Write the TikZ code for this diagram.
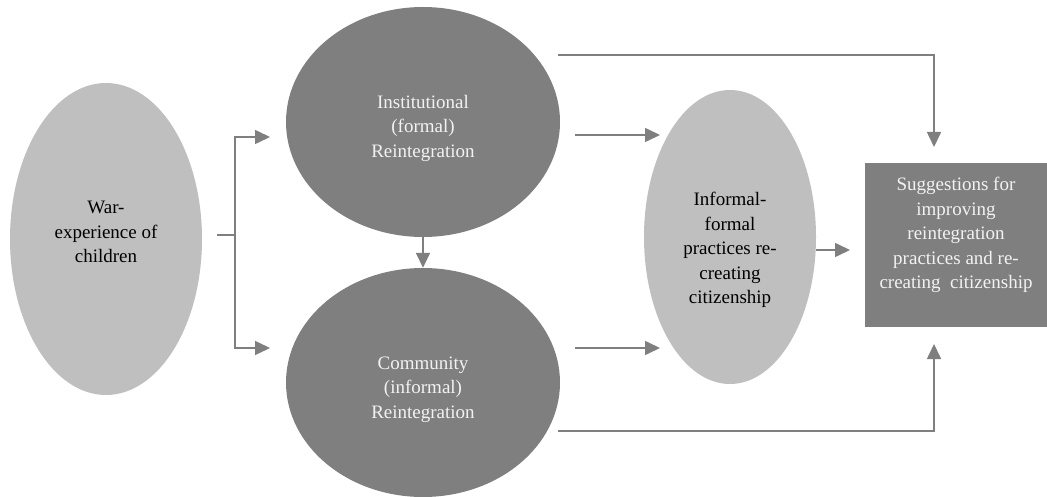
\documentclass[tikz,border=0pt]{standalone}
\usepackage{fontspec}
\setmainfont{Liberation Serif}
\usetikzlibrary{shapes.geometric,arrows.meta}
\definecolor{lightg}{HTML}{BFBFBF}
\definecolor{darkg}{HTML}{7F7F7F}
\definecolor{paleg}{HTML}{F2F2F2}
\begin{document}
\begin{tikzpicture}[x=1pt,y=-1pt,
 conn/.style={draw=darkg,line width=1.6pt,-{Triangle[length=15pt,width=14pt]}},
 lightell/.style={ellipse,fill=lightg,inner sep=0pt},
 darkell/.style={ellipse,fill=darkg,inner sep=0pt},
 btext/.style={align=center,font=\fontsize{19}{24.5}\selectfont,text=black},
 wtext/.style={align=center,font=\fontsize{19}{24.5}\selectfont,text=paleg}]
\useasboundingbox (0,0) rectangle (1047,497);
\node[lightell,minimum width=192pt,minimum height=312pt,
  label={[btext,yshift=7pt]center:{War-\\experience of\\children}}] (war) at (106,239) {};
\node[darkell,minimum width=274pt,minimum height=230pt,
  label={[wtext,yshift=-6pt]center:{Institutional\\(formal)\\Reintegration}}] (inst) at (423,122) {};
\node[darkell,minimum width=274pt,minimum height=229pt,
  label={[wtext,yshift=-7pt]center:{Community\\(informal)\\Reintegration}}] (comm) at (423,382.5) {};
\node[lightell,minimum width=172pt,minimum height=294pt,
  label={[btext,yshift=-13pt]center:{Informal-\\formal\\practices re-\\creating\\citizenship}}] (inf) at (730,237) {};
\node[rectangle,fill=darkg,inner sep=0pt,minimum width=182pt,minimum height=164pt,
  label={[wtext,yshift=10pt]center:{Suggestions for\\improving\\reintegration\\practices and re-\\creating~ citizenship}}] (sug) at (956,245) {};
% connector points
\coordinate (wo) at (217,235);
\coordinate (wj) at (235,235);
\coordinate (ta) at (270,137);
\coordinate (ba) at (270,348);
\coordinate (t0) at (558,55);
\coordinate (st) at (934,147);
\coordinate (m1) at (575,135);
\coordinate (m1e) at (660,135);
\coordinate (m2) at (575,348);
\coordinate (m2e) at (660,348);
\coordinate (b0) at (558,431);
\coordinate (sb) at (934,344);
\coordinate (io) at (816,250);
\coordinate (ie) at (850,250);
\draw[conn] (wo) -- (wj) |- (ta);
\draw[conn] (wj) |- (ba);
\draw[conn] (inst.south) -- (comm.north);
\draw[conn] (t0) -| (st);
\draw[conn] (m1) -- (m1e);
\draw[conn] (m2) -- (m2e);
\draw[conn] (b0) -| (sb);
\draw[conn] (io) -- (ie);
\end{tikzpicture}
\end{document}
